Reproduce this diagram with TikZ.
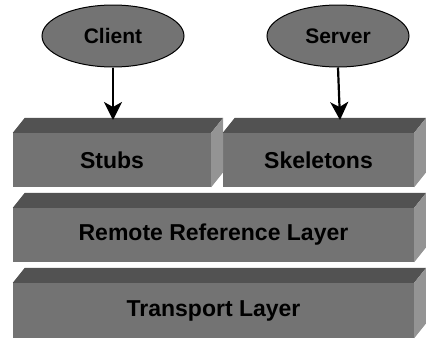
\documentclass[tikz,border=0pt]{standalone}
\usepackage{fontspec}
\setmainfont{Liberation Sans}
\usetikzlibrary{shapes.geometric,arrows.meta}
\tikzset{
  front/.style={fill=black!55,draw=none,inner sep=0pt,font=\bfseries\fontsize{23}{25}\selectfont,text=black},
  oval/.style={ellipse,fill=black!55,draw=black,line width=1pt,minimum width=142pt,minimum height=62pt,inner sep=0pt,font=\bfseries\fontsize{21}{23}\selectfont,text=black},
  topface/.style={fill=black!68},
  sideface/.style={fill=black!42},
  link/.style={line width=2.2pt,-{Stealth[length=18pt,width=18pt,inset=5pt]}}
}
\newcommand{\boxdepth}[1]{%
  \fill[topface] (#1.north west) -- ++(12pt,15pt) -- ([xshift=12pt,yshift=15pt]#1.north east) -- (#1.north east) -- cycle;
  \fill[sideface] (#1.north east) -- ++(12pt,15pt) -- ([xshift=12pt,yshift=15pt]#1.south east) -- (#1.south east) -- cycle;}
\begin{document}
\begin{tikzpicture}[x=1pt,y=-1pt]
\useasboundingbox (0,0) rectangle (426,338);
\node[oval] (client) at (113,36) {Client};
\node[oval] (server) at (338,36) {Server};
\node[front,minimum width=198pt,minimum height=54pt] (stubs) at (112,160) {Stubs};
\node[front,minimum width=191pt,minimum height=54pt] (skel) at (318.5,160) {Skeletons};
\node[front,minimum width=401pt,minimum height=54pt] (rrl) at (213.5,235) {Remote Reference Layer};
\node[front,minimum width=401pt,minimum height=55pt] (tl) at (213.5,310.5) {Transport Layer};
\boxdepth{stubs}
\boxdepth{skel}
\boxdepth{rrl}
\boxdepth{tl}
\coordinate (stubtop) at (113,120);
\coordinate (skeltop) at (340,120);
\draw[link] (client.south) -- (stubtop);
\draw[link] (server.south) -- (skeltop);
\end{tikzpicture}
\end{document}
